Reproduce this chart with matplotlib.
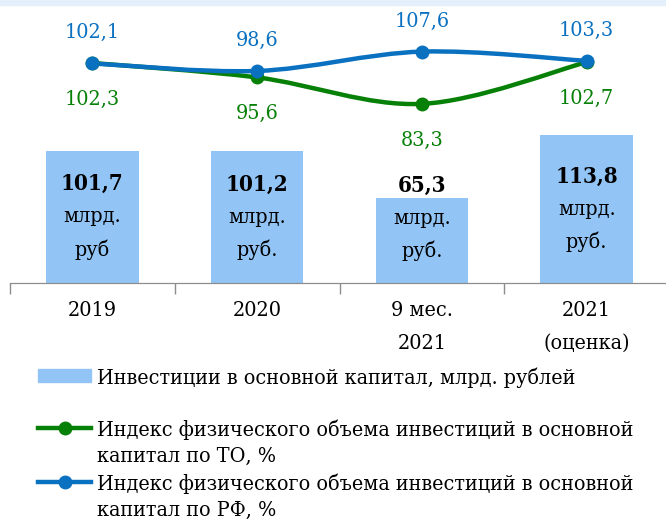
import numpy as np
import matplotlib.pyplot as plt
from matplotlib.path import Path
from matplotlib.patches import PathPatch, Rectangle
from matplotlib.lines import Line2D

plt.rcParams['font.family'] = ['DejaVu Serif']
plt.rcParams['font.stretch'] = 'condensed'

# данные
categories = ['2019', '2020', '9 мес.\n2021', '2021\n(оценка)']
investments = [101.7, 101.2, 65.3, 113.8]
inv_units = ['руб', 'руб.', 'руб.', 'руб.']
index_to = [102.3, 95.6, 83.3, 102.7]
index_rf = [102.1, 98.6, 107.6, 103.3]

bar_color = '#92C5F6'
green = '#078007'
blue = '#0A70C0'
fs = 15.4

fig = plt.figure(figsize=(6.66, 5.23), dpi=100)
fig.patches.append(Rectangle((0, 0.99), 1, 0.01, transform=fig.transFigure,
                             color='#E3F0FB', zorder=0))

ax = fig.add_axes([10 / 666, 240 / 523, 659 / 666, 283 / 523])
ax2 = ax.twinx()

x = np.arange(len(categories))
ax.bar(x, investments, width=0.56, color=bar_color, zorder=1)
ax.set_xlim(-0.5, 3.5)
ax.set_ylim(0, 217.7)
ax2.set_ylim(0, 131.6)

# подписи на столбцах
for xi, v, u in zip(x, investments, inv_units):
    yc = max(v / 2, 50)
    ax.annotate(f'{v:.1f}'.replace('.', ','), (xi, yc), xytext=(0, 23.5),
                textcoords='offset points', ha='center', va='center',
                fontsize=fs + 0.6, fontweight='bold')
    ax.annotate('млрд.', (xi, yc), ha='center', va='center', fontsize=fs)
    ax.annotate(u, (xi, yc), xytext=(0, -23.5), textcoords='offset points',
                ha='center', va='center', fontsize=fs)


def smooth_path(xs, ys):
    # сглаженная линия как в Excel (кривые Безье)
    pts = np.column_stack([xs, ys]).astype(float)
    verts = [pts[0]]
    codes = [Path.MOVETO]
    n = len(pts)
    for i in range(n - 1):
        p0 = pts[i - 1] if i > 0 else pts[i]
        p1, p2 = pts[i], pts[i + 1]
        p3 = pts[i + 2] if i + 2 < n else pts[i + 1]
        c1 = p1 + (p2 - p0) / 6
        c2 = p2 - (p3 - p1) / 6
        verts += [c1, c2, p2]
        codes += [Path.CURVE4] * 3
    return Path(verts, codes)


for vals, col, dy in [(index_to, green, -26), (index_rf, blue, 22)]:
    ax2.add_patch(PathPatch(smooth_path(x, vals), fill=False, edgecolor=col,
                            lw=3.2, capstyle='round', zorder=3))
    ax2.plot(x, vals, 'o', color=col, ms=9, zorder=4)
    for xi, v in zip(x, vals):
        ax2.annotate(f'{v:.1f}'.replace('.', ','), (xi, v), xytext=(0, dy),
                     textcoords='offset points', ha='center', va='center',
                     fontsize=fs, color=col)

# оси
for a in (ax, ax2):
    for s in ['top', 'left', 'right']:
        a.spines[s].set_visible(False)
    a.spines['bottom'].set_color('#8c8c8c')
ax2.set_yticks([])
ax.set_yticks([])
ax.set_xticks(x)
ax.set_xticklabels(categories, fontsize=fs, linespacing=1.9)
ax.tick_params(axis='x', which='major', length=0, pad=13)
ax.set_xticks(np.arange(-0.5, 4, 1), minor=True)
ax.tick_params(axis='x', which='minor', length=8, color='#8c8c8c', width=1)

# легенда
h1 = [Rectangle((0, 0), 1, 1, color=bar_color)]
leg1 = fig.legend(h1, ['Инвестиции в основной капитал, млрд. рублей'],
                  loc='upper left', bbox_to_anchor=(38 / 666, 1 - 367 / 523),
                  frameon=False, fontsize=fs, handlelength=2.5,
                  handleheight=0.55, handletextpad=0.25, borderpad=0,
                  borderaxespad=0)
# маркер легенды на уровне первой строки подписи
empty = Line2D([], [], alpha=0)
h2 = [Line2D([], [], color=green, lw=3.2, marker='o', ms=9), empty,
      Line2D([], [], color=blue, lw=3.2, marker='o', ms=9), empty]
leg2 = fig.legend(h2, ['Индекс физического объема инвестиций в основной',
                       'капитал по ТО, %',
                       'Индекс физического объема инвестиций в основной',
                       'капитал по РФ, %'],
                  loc='upper left', bbox_to_anchor=(38 / 666, 1 - 419 / 523),
                  frameon=False, fontsize=fs, handlelength=2.5,
                  handletextpad=0.25, borderpad=0, borderaxespad=0,
                  labelspacing=0.34)

fig.savefig('out.png', dpi=100)
